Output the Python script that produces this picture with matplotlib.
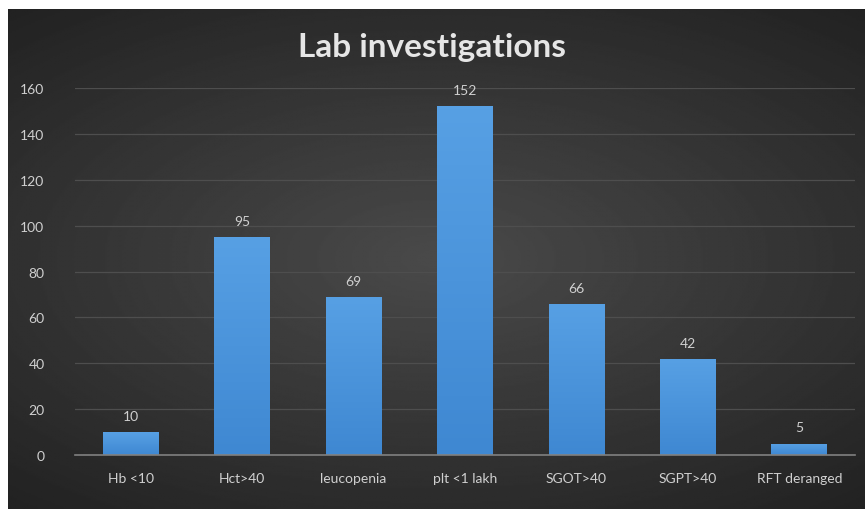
import numpy as np
import matplotlib
matplotlib.use("Agg")
import matplotlib.pyplot as plt
from matplotlib.colors import LinearSegmentedColormap

categories = ["Hb <10", "Hct>40", "leucopenia", "plt <1 lakh", "SGOT>40", "SGPT>40", "RFT deranged"]
values = [10, 95, 69, 152, 66, 42, 5]
yticks = [0, 20, 40, 60, 80, 100, 120, 140, 160]

plt.rcParams["font.family"] = ["Lato", "DejaVu Sans"]
TXT = "#d0d0d0"

fig = plt.figure(figsize=(8.65, 5.10), dpi=100, facecolor="white")

# dark radial background panel (chart area starts a few px in from top/left)
bg = fig.add_axes([8 / 865, 0, 857 / 865, 500 / 510])
yy, xx = np.mgrid[-1:1:300j, -1:1:500j]
r = np.sqrt((xx * 0.85) ** 2 + (yy * 1.0) ** 2)
shade = np.clip(0.29 - 0.12 * r, 0.12, 0.29)
bg.imshow(shade, cmap="gray", vmin=0, vmax=1, aspect="auto", extent=[0, 1, 0, 1])
bg.set_xlim(0, 1)
bg.set_ylim(0, 1)
bg.axis("off")

ax = fig.add_axes([75 / 865, 54 / 510, 780 / 865, 367 / 510])
ax.patch.set_alpha(0)
x = np.arange(len(categories))
bars = ax.bar(x, values, width=0.5, color="#4f95dc", zorder=3)

# vertical gradient inside each bar
grad = np.linspace(0, 1, 100).reshape(-1, 1)
cmap = LinearSegmentedColormap.from_list("b", ["#3f88d2", "#57a0e4"])
for b in bars:
    im = ax.imshow(grad, cmap=cmap, aspect="auto", origin="lower", zorder=4,
                   extent=[b.get_x(), b.get_x() + b.get_width(), 0, b.get_height()])
    im.set_clip_path(b)

for xi, v in zip(x, values):
    ax.text(xi, v + 7, str(v), ha="center", va="center", color=TXT, fontsize=10)

ax.set_xlim(-0.5, len(categories) - 0.5)
ax.set_ylim(0, 160)
ax.set_yticks(yticks)
ax.set_xticks(x)
ax.set_xticklabels(categories)
ax.tick_params(axis="both", length=0, colors=TXT, labelsize=10)
ax.tick_params(axis="x", pad=12)
ax.tick_params(axis="y", pad=22)
ax.grid(axis="y", color="#4e4e4e", linewidth=0.9, zorder=0)
ax.set_axisbelow(True)
for s in ["top", "right", "left"]:
    ax.spines[s].set_visible(False)
ax.spines["bottom"].set_color("#808080")
ax.spines["bottom"].set_linewidth(1.2)
ax.spines["bottom"].set_zorder(5)

fig.text(0.5, 1 - 47 / 510, "Lab investigations", ha="center", va="center",
         color="#e6e6e6", fontsize=24, fontweight="bold")

fig.savefig("out.png", dpi=100, facecolor="white")
